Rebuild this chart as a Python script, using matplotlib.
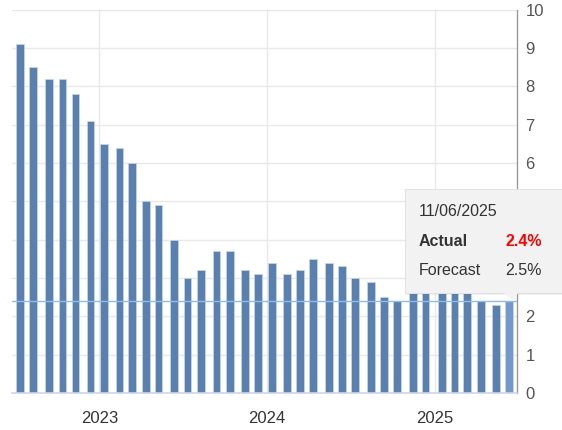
import matplotlib
matplotlib.use("Agg")
import matplotlib.pyplot as plt
from matplotlib.patches import Rectangle, Polygon
import pandas as pd

plt.rcParams['font.family'] = ['Liberation Sans', 'DejaVu Sans']

# release dates and actual YoY values
release_dates = pd.to_datetime([
    '2022-07-13', '2022-08-10', '2022-09-13', '2022-10-13', '2022-11-10', '2022-12-13',
    '2023-01-12', '2023-02-14', '2023-03-14', '2023-04-12', '2023-05-10', '2023-06-13',
    '2023-07-12', '2023-08-10', '2023-09-13', '2023-10-12', '2023-11-14', '2023-12-12',
    '2024-01-11', '2024-02-13', '2024-03-12', '2024-04-10', '2024-05-15', '2024-06-12',
    '2024-07-11', '2024-08-14', '2024-09-11', '2024-10-10', '2024-11-13', '2024-12-11',
    '2025-01-15', '2025-02-12', '2025-03-12', '2025-04-10', '2025-05-13', '2025-06-11',
])
actual = [9.1, 8.5, 8.2, 8.2, 7.8, 7.1, 6.5, 6.4, 6.0, 5.0, 4.9, 4.0,
          3.0, 3.2, 3.7, 3.7, 3.2, 3.1, 3.4, 3.1, 3.2, 3.5, 3.4, 3.3,
          3.0, 2.9, 2.5, 2.4, 2.6, 2.7, 2.9, 3.0, 2.8, 2.4, 2.3, 2.4]
year_ticks = pd.to_datetime(['2023-01-01', '2024-01-01', '2025-01-01'])
year_labels = ['2023', '2024', '2025']
y_ticks = list(range(0, 11))
# labels 3-5 sit under the tooltip in the reference
y_labels = ['0', '1', '2', '', '', '', '6', '7', '8', '9', '10']

tip_date = '11/06/2025'
tip_actual = '2.4%'
tip_forecast = '2.5%'

W, H = 562, 430
fig = plt.figure(figsize=(W / 100, H / 100), dpi=100)
ax = fig.add_axes([12 / W, 1 - 393 / H, (517 - 12) / W, (393 - 9.5) / H])

colors = ['#5a80b0'] * (len(actual) - 1) + ['#7399cc']
ax.bar(release_dates, actual, width=17, color=colors, edgecolor='#c9d7e8',
       linewidth=0.5, zorder=2)

# crosshair at hovered value
ax.axhline(actual[-1], color='#8dbdeb', lw=1, zorder=3)

ax.set_xlim(pd.Timestamp('2022-06-25'), pd.Timestamp('2025-06-28'))
ax.set_ylim(0, 10)

ax.set_xticks(year_ticks)
ax.set_xticklabels(year_labels)
ax.set_yticks(y_ticks)
ax.set_yticklabels(y_labels)
ax.yaxis.tick_right()
ax.tick_params(axis='x', length=0, pad=13, labelsize=12, labelcolor='#333333')
ax.tick_params(axis='y', length=0, pad=6, labelsize=12, labelcolor='#555555')
ax.grid(True, color='#e9e9e9', lw=1, zorder=0)
ax.set_axisbelow(True)

for s in ['top', 'left']:
    ax.spines[s].set_visible(False)
ax.spines['right'].set_color('#999999')
ax.spines['right'].set_linewidth(1)
ax.spines['bottom'].set_color('#ccd6eb')
ax.spines['bottom'].set_linewidth(1.2)


def fp(x, y):
    return (x / W, 1 - y / H)


# tooltip
x0, y0, x1, y1 = 405, 189, 575, 293
shadow = Rectangle(fp(x0 + 2, y1 + 2), (x1 - x0) / W, (y1 - y0) / H,
                   transform=fig.transFigure, facecolor='#000000', alpha=0.06,
                   edgecolor='none', zorder=4)
box = Rectangle(fp(x0, y1), (x1 - x0) / W, (y1 - y0) / H, transform=fig.transFigure,
                facecolor='#f2f2f2', edgecolor='#e2e2e2', lw=0.8, zorder=5)
pointer = Polygon([fp(503, 292.5), fp(518, 292.5), fp(514, 301)], closed=True,
                  transform=fig.transFigure, facecolor='#f2f2f2', edgecolor='none',
                  zorder=6)
fig.add_artist(shadow)
fig.add_artist(box)
fig.add_artist(pointer)

fig.text(*fp(419, 211.5), tip_date, fontsize=11.5, color='#333333', va='center', zorder=7)
fig.text(*fp(419, 241), 'Actual', fontsize=11.5, color='#333333', weight='bold',
         va='center', zorder=7)
fig.text(*fp(542, 241), tip_actual, fontsize=11.5, color='#ff0000', weight='bold',
         va='center', ha='right', zorder=7)
fig.text(*fp(419, 270.5), 'Forecast', fontsize=11.5, color='#333333', va='center', zorder=7)
fig.text(*fp(542, 270.5), tip_forecast, fontsize=11.5, color='#333333', va='center',
         ha='right', zorder=7)

fig.savefig('out.png', dpi=100)
